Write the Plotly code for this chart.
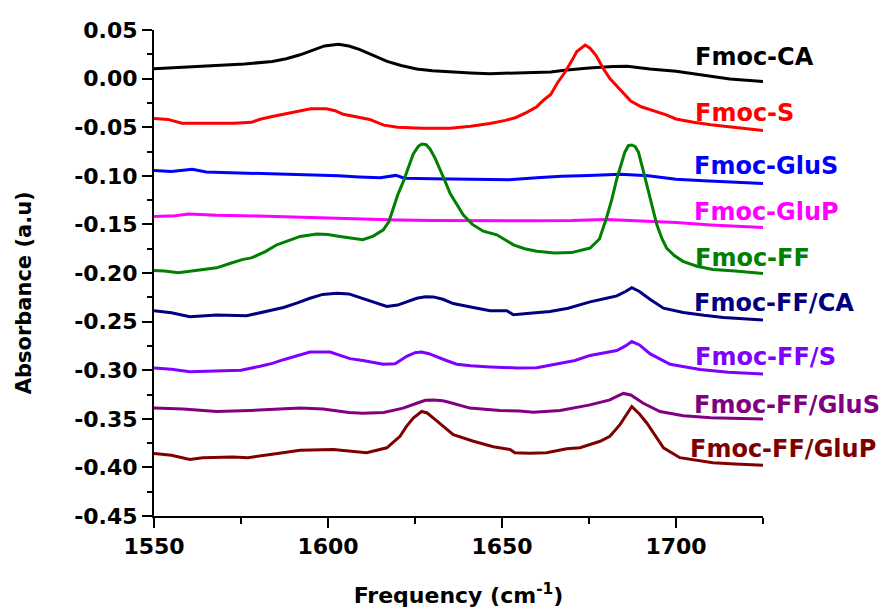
import plotly.graph_objects as go

# ---------------- data ----------------
names = ["Fmoc-CA", "Fmoc-S", "Fmoc-GluS", "Fmoc-GluP", "Fmoc-FF",
         "Fmoc-FF/CA", "Fmoc-FF/S", "Fmoc-FF/GluS", "Fmoc-FF/GluP"]

ca_x = [1550, 1558, 1568, 1576, 1584, 1588, 1592, 1596, 1599, 1603, 1606, 1609, 1613, 1617, 1621,
        1625.5, 1630, 1635, 1641, 1646.5, 1653, 1659, 1664, 1668, 1675, 1682, 1686, 1692.5, 1700,
        1708, 1715.5, 1725]
ca_y = [0.0102, 0.0115, 0.0133, 0.0150, 0.0177, 0.0205, 0.0245, 0.0300, 0.0336, 0.0354, 0.0335,
        0.0300, 0.0240, 0.0177, 0.0135, 0.0099, 0.0080, 0.0068, 0.0058, 0.0051, 0.0055, 0.0064,
        0.0068, 0.0085, 0.0110, 0.0125, 0.0128, 0.0099, 0.0075, 0.0034, -0.0003, -0.0030]

s_x = [1550, 1554, 1558, 1565, 1573, 1578, 1580.5, 1584, 1587, 1591, 1595, 1599.6, 1602, 1604.4,
       1609, 1612, 1616, 1620, 1627, 1635, 1641, 1646.5, 1651, 1654, 1657, 1660, 1662, 1664, 1666,
       1668, 1670, 1671.5, 1673.9, 1675.3, 1677, 1679, 1681, 1683, 1685, 1687, 1690, 1693, 1697,
       1700, 1705, 1710, 1717, 1725]
s_y = [-0.041, -0.042, -0.0459, -0.046, -0.0459, -0.045, -0.0418, -0.039, -0.0367, -0.034, -0.031,
       -0.031, -0.033, -0.0367, -0.0395, -0.042, -0.0479, -0.050, -0.051, -0.051, -0.049, -0.0462,
       -0.043, -0.040, -0.035, -0.0289, -0.022, -0.0163, -0.004, 0.006, 0.018, 0.0279, 0.0345,
       0.0313, 0.024, 0.0109, 0.000, -0.0078, -0.016, -0.0231, -0.029, -0.0323, -0.037, -0.0415,
       -0.045, -0.0475, -0.0505, -0.0535]

glus_x = [1550, 1555, 1561, 1565, 1572, 1580, 1587, 1595, 1603, 1609, 1615, 1619.5, 1622, 1630,
          1640, 1647, 1652, 1660, 1667, 1675, 1684, 1692, 1700, 1708, 1716, 1725]
glus_y = [-0.0945, -0.0955, -0.0934, -0.0960, -0.0968, -0.0975, -0.0979, -0.0990, -0.1000, -0.1012,
          -0.1020, -0.0996, -0.1025, -0.1030, -0.1035, -0.1045, -0.1040, -0.1020, -0.1005, -0.0998,
          -0.0985, -0.1000, -0.1036, -0.1050, -0.1065, -0.1080]

glup_x = [1550, 1556, 1560, 1568, 1580, 1590, 1600, 1610, 1620, 1630, 1640, 1650, 1660, 1670,
          1680, 1690, 1700, 1710, 1725]
glup_y = [-0.142, -0.141, -0.1393, -0.1405, -0.1413, -0.1425, -0.1435, -0.1444, -0.1455, -0.146,
          -0.1462, -0.1465, -0.1462, -0.146, -0.1450, -0.1465, -0.1480, -0.1505, -0.1532]

ff_x = [1550, 1553, 1557, 1562, 1568, 1572, 1575.6, 1578, 1582, 1585.3, 1589, 1592, 1596.8, 1600,
        1603.4, 1606.3, 1610, 1613, 1615.9, 1617.5, 1618.8, 1620, 1621.6, 1623, 1624.5, 1626, 1627,
        1628.2, 1629.3, 1630.8, 1632.2, 1633.7, 1635.1, 1637, 1638.9, 1641.5, 1644.6, 1648.5, 1651,
        1653.3, 1656.5, 1660, 1665, 1670, 1675.3, 1678, 1680, 1681.5, 1683, 1684.2, 1685.3, 1686.3,
        1687.3, 1688.3, 1689.2, 1690.4, 1691.6, 1693, 1694.5, 1696, 1697.3, 1699.5, 1702, 1706,
        1710.6, 1717, 1725]
ff_y = [-0.1974, -0.198, -0.1998, -0.1975, -0.1947, -0.190, -0.186, -0.1845, -0.178, -0.171,
        -0.166, -0.1624, -0.160, -0.1605, -0.1624, -0.164, -0.1658, -0.162, -0.1556, -0.147,
        -0.1335, -0.120, -0.1063, -0.092, -0.0775, -0.0695, -0.0673, -0.0680, -0.0724, -0.082,
        -0.0928, -0.106, -0.1182, -0.130, -0.1403, -0.150, -0.157, -0.1607, -0.166, -0.171, -0.175,
        -0.1777, -0.1794, -0.179, -0.1743, -0.165, -0.1437, -0.125, -0.103, -0.088, -0.0757,
        -0.069, -0.0683, -0.070, -0.0757, -0.092, -0.1097, -0.131, -0.1505, -0.165, -0.1743,
        -0.182, -0.188, -0.193, -0.1964, -0.198, -0.2005]

ffca_x = [1550, 1555, 1560.3, 1568, 1576.6, 1582, 1587.2, 1591, 1594.8, 1598.5, 1602.5, 1606,
          1609.2, 1613, 1616.9, 1620, 1623, 1625.5, 1628, 1630.3, 1633, 1636, 1641, 1646.6, 1651.4,
          1653.3, 1658, 1663.8, 1669, 1675.3, 1680, 1683, 1685.5, 1687.3, 1689.5, 1692.5, 1696.4,
          1702.1, 1708, 1713.6, 1725]
ffca_y = [-0.2389, -0.241, -0.245, -0.2433, -0.244, -0.240, -0.2355, -0.231, -0.226, -0.222,
          -0.2209, -0.2215, -0.2253, -0.230, -0.2345, -0.233, -0.229, -0.226, -0.2245, -0.2246,
          -0.227, -0.2314, -0.235, -0.2389, -0.2389, -0.243, -0.2415, -0.2396, -0.2362, -0.2297,
          -0.226, -0.2236, -0.219, -0.2151, -0.219, -0.227, -0.2362, -0.2406, -0.2435, -0.2457,
          -0.2484]

ffs_x = [1550, 1555, 1560.3, 1568, 1575, 1580.5, 1584, 1587.2, 1591, 1594.8, 1600.6, 1603, 1606.3,
         1610, 1615.9, 1619.3, 1622.6, 1625, 1626.9, 1629, 1631.2, 1634, 1637, 1641, 1646.6,
         1654.2, 1660, 1666.7, 1671, 1675.3, 1683, 1685.5, 1687.3, 1689.5, 1692.5, 1698.3, 1706.9,
         1715, 1725]
ffs_y = [-0.2977, -0.299, -0.3017, -0.301, -0.300, -0.296, -0.293, -0.2892, -0.285, -0.2813,
         -0.2813, -0.284, -0.2881, -0.290, -0.2939, -0.2933, -0.2857, -0.282, -0.2813, -0.283,
         -0.2864, -0.290, -0.2939, -0.2955, -0.2966, -0.2977, -0.2975, -0.2926, -0.290, -0.2848,
         -0.2797, -0.275, -0.2705, -0.274, -0.283, -0.2939, -0.2993, -0.302, -0.304]

ffglus_x = [1550, 1558.4, 1568, 1577.6, 1592, 1598.6, 1606, 1610, 1616, 1621.6, 1625.5, 1628,
            1630.3, 1633, 1635, 1640.8, 1649.4, 1655, 1659, 1666.7, 1675.3, 1681, 1683, 1684.9,
            1687, 1690.6, 1695.4, 1702.1, 1710, 1725]
ffglus_y = [-0.339, -0.340, -0.3425, -0.3415, -0.339, -0.340, -0.3435, -0.3442, -0.3435, -0.339,
            -0.334, -0.331, -0.3306, -0.3315, -0.3333, -0.339, -0.3415, -0.342, -0.3432, -0.3415,
            -0.3357, -0.3306, -0.327, -0.3239, -0.3255, -0.334, -0.3425, -0.3469, -0.349, -0.3503]

ffglup_x = [1550, 1555, 1560.3, 1564, 1572.7, 1577, 1585, 1592, 1601.5, 1611.1, 1616.9, 1620.7,
            1622.5, 1624.5, 1626.9, 1628.5, 1630.3, 1633, 1636, 1641.8, 1647.5, 1652.3, 1653.7,
            1658, 1662.8, 1668.6, 1672.4, 1678.2, 1681, 1683.9, 1685.6, 1687.3, 1689.5, 1691.6,
            1694, 1696.4, 1701.1, 1705, 1710.6, 1717, 1725]
ffglup_y = [-0.3857, -0.3875, -0.3918, -0.390, -0.3894, -0.390, -0.386, -0.3823, -0.3815, -0.385,
            -0.3798, -0.368, -0.358, -0.3493, -0.3425, -0.344, -0.3493, -0.357, -0.3662, -0.3731,
            -0.3788, -0.3815, -0.385, -0.3855, -0.385, -0.3809, -0.3798, -0.3731, -0.368, -0.356,
            -0.346, -0.3374, -0.345, -0.3543, -0.367, -0.3798, -0.390, -0.392, -0.3951, -0.3965,
            -0.3978]

xs = [ca_x, s_x, glus_x, glup_x, ff_x, ffca_x, ffs_x, ffglus_x, ffglup_x]
ys = [ca_y, s_y, glus_y, glup_y, ff_y, ffca_y, ffs_y, ffglus_y, ffglup_y]

y_ticks = [0.05, 0.00, -0.05, -0.10, -0.15, -0.20, -0.25, -0.30, -0.35, -0.40, -0.45]
x_ticks = [1550, 1600, 1650, 1700]

# ---------------- styling ----------------
colors = ["#000000", "#FF0000", "#0000FF", "#FF00FF", "#008000",
          "#000080", "#8000FF", "#800080", "#800000"]
label_x = [1705, 1705, 1704.5, 1704.5, 1705, 1704.5, 1705, 1704.5, 1703.5]
label_y = [0.0224, -0.035, -0.0894, -0.137, -0.1845, -0.2304, -0.2864, -0.3357, -0.3815]

FONT = "DejaVu Sans"

fig = go.Figure()
for name, x, y, c in zip(names, xs, ys, colors):
    fig.add_trace(go.Scatter(x=x, y=y, mode="lines", name=name,
                             line=dict(color=c, width=3), showlegend=False))

for name, lx, ly, c in zip(names, label_x, label_y, colors):
    fig.add_annotation(x=lx, y=ly, xref="x", yref="y", text=name, showarrow=False,
                       xanchor="left", yanchor="middle",
                       font=dict(family=FONT, size=24, color=c, weight="bold"))

# y-axis title (placed as rotated text, slightly below the axis centre as in the reference)
fig.add_annotation(x=-0.212, y=0.46, xref="paper", yref="paper", text="Absorbance (a.u)",
                   showarrow=False, textangle=-90, xanchor="center", yanchor="middle",
                   font=dict(family=FONT, size=21, color="black", weight="bold"))

y_minor = [(a + b) / 2 for a, b in zip(y_ticks[:-1], y_ticks[1:])]
x_minor = [v + 25 for v in x_ticks]

fig.update_layout(
    width=882, height=616,
    margin=dict(l=154, r=119, t=30, b=95),
    paper_bgcolor="white", plot_bgcolor="white",
    font=dict(family=FONT, color="black"),
)
fig.update_xaxes(
    range=[1550, 1725], showgrid=False, zeroline=False,
    showline=True, linecolor="black", linewidth=2, mirror=False,
    ticks="outside", ticklen=10, tickwidth=2, tickcolor="black",
    tickmode="array", tickvals=x_ticks, ticktext=[str(v) for v in x_ticks],
    tickfont=dict(family=FONT, size=22, color="black", weight="bold"),
    minor=dict(ticks="outside", ticklen=6, tickwidth=2, tickcolor="black",
               tickmode="array", tickvals=x_minor, showgrid=False),
    title=dict(text="Frequency (cm<sup>-1</sup>)", standoff=29,
               font=dict(family=FONT, size=22, color="black", weight="bold")),
)
fig.update_yaxes(
    range=[-0.45, 0.05], showgrid=False, zeroline=False,
    showline=True, linecolor="black", linewidth=2, mirror=False,
    ticks="outside", ticklen=10, tickwidth=2, tickcolor="black",
    tickmode="array", tickvals=y_ticks, ticktext=[f"{v:.2f}" for v in y_ticks],
    tickfont=dict(family=FONT, size=22, color="black", weight="bold"),
    minor=dict(ticks="outside", ticklen=5, tickwidth=2, tickcolor="black",
               tickmode="array", tickvals=y_minor, showgrid=False),
)

fig.write_html("out.html")
